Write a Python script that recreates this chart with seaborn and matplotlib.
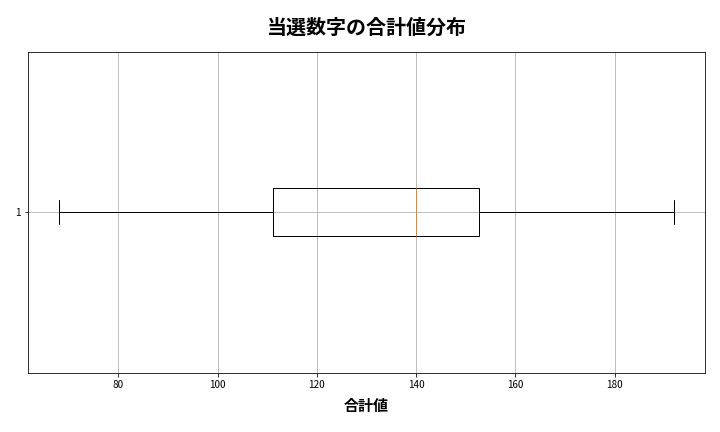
import matplotlib
matplotlib.use("Agg")
import matplotlib.pyplot as plt
import seaborn as sns
import pandas as pd

# Summary values: min, Q1, median, Q3, max
total_values = [68, 111.25, 140, 152.6, 192]
y_tick_labels = ["1"]

df = pd.DataFrame({"合計値": total_values})

sns.set_style("white")
plt.rcParams['font.family'] = ['Noto Sans CJK JP', 'DejaVu Sans']
plt.rcParams['text.color'] = 'black'
plt.rcParams['xtick.color'] = 'black'
plt.rcParams['ytick.color'] = 'black'
plt.rcParams['axes.labelcolor'] = 'black'

fig = plt.figure(figsize=(10, 6), dpi=72)
ax = fig.add_axes([0.039, 0.137, 0.94, 0.743])

sns.boxplot(data=df, x="合計値", orient="h", width=0.15, fill=False,
            color="black", linecolor="black", linewidth=1, whis=1.5,
            medianprops={"color": "#ff7f0e"}, ax=ax)

ax.set_ylim(0.5, -0.5)
ax.set_yticks([0])
ax.set_yticklabels(y_tick_labels)
ax.grid(True, color="#b0b0b0", linewidth=0.8)
ax.set_axisbelow("line")
for s in ax.spines.values():
    s.set_visible(True)
    s.set_color("black")
    s.set_linewidth(0.8)
ax.tick_params(axis="both", which="major", labelsize=10, length=3.5, width=0.8,
               bottom=True, left=True, color="black")

ax.set_title("当選数字の合計値分布", fontsize=20, fontweight="bold", pad=18)
ax.set_xlabel("合計値", fontsize=15, fontweight="bold", labelpad=8)
ax.set_ylabel("")

fig.savefig("out.png", dpi=72)
